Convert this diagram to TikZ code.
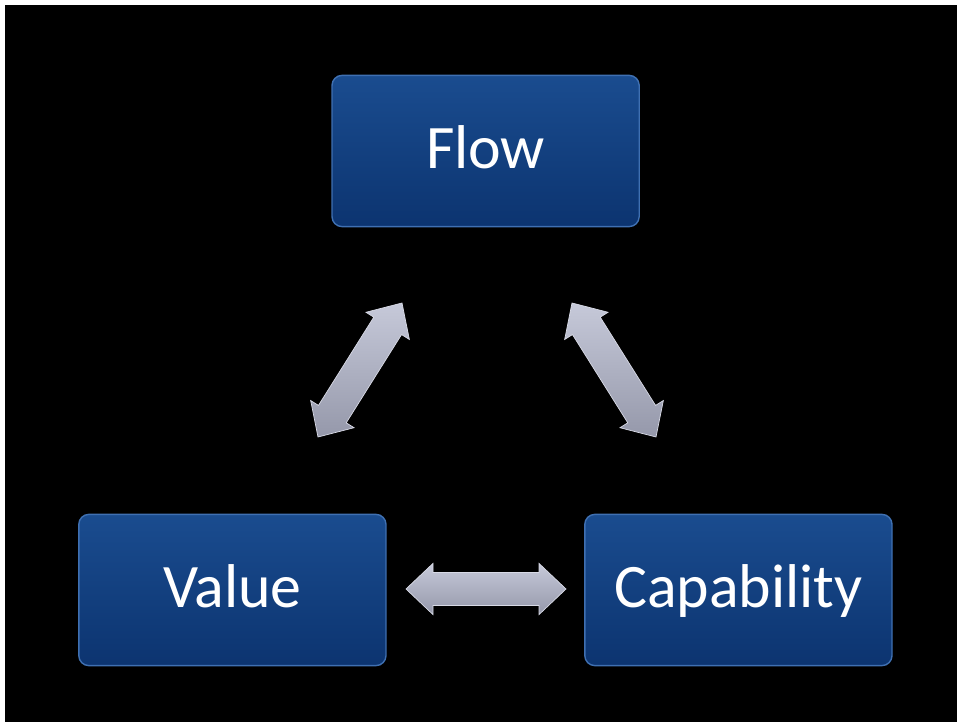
\documentclass[tikz,border=0pt]{standalone}
\usepackage{fontspec}
\setmainfont{Carlito}
\usetikzlibrary{calc}

\definecolor{boxtop}{HTML}{1A4C8F}
\definecolor{boxbottom}{HTML}{0C3470}
\definecolor{boxrim}{HTML}{3F70B2}
\definecolor{linktop}{HTML}{C6C9D9}
\definecolor{linkbottom}{HTML}{9598AA}
\definecolor{linkrim}{HTML}{D8DAE6}

\begin{document}
\begin{tikzpicture}[
    box/.style={
        rectangle,
        draw=boxrim,
        line width=1pt,
        rounded corners=0.25cm,
        top color=boxtop,
        bottom color=boxbottom,
        minimum width=7.68cm,
        minimum height=3.78cm,
        inner sep=0pt,
        text height=33pt,
        text depth=8.8pt,
        text=white,
        font=\fontsize{44}{53}\selectfont
    },
    link/.style={
        top color=linktop,
        bottom color=linkbottom,
        draw=linkrim,
        line width=0.5pt,
        to path={
            -- ($(\tikztostart)!0.675cm!(\tikztotarget)!0.64cm!90:(\tikztotarget)$)
            -- ($(\tikztostart)!0.675cm!(\tikztotarget)!0.41cm!90:(\tikztotarget)$)
            -- ($(\tikztotarget)!0.675cm!(\tikztostart)!0.41cm!-90:(\tikztostart)$)
            -- ($(\tikztotarget)!0.675cm!(\tikztostart)!0.64cm!-90:(\tikztostart)$)
            -- (\tikztotarget)
            -- ($(\tikztotarget)!0.675cm!(\tikztostart)!0.64cm!90:(\tikztostart)$)
            -- ($(\tikztotarget)!0.675cm!(\tikztostart)!0.41cm!90:(\tikztostart)$)
            -- ($(\tikztostart)!0.675cm!(\tikztotarget)!0.41cm!-90:(\tikztotarget)$)
            -- ($(\tikztostart)!0.675cm!(\tikztotarget)!0.64cm!-90:(\tikztotarget)$)
            -- cycle
        }
    }
]

% Background
\useasboundingbox (0,0) rectangle (24,18.075);
\fill[white] (0,0) rectangle (24,18.075);
\fill[black] (0.125,0.025) rectangle (23.925,17.95);

% Nodes
\node[box] (Flow)  at (12.14,14.3)  {Flow};
\node[box] (Value) at (5.81,3.325)  {Value};
\node[box] (Cap)   at (18.46,3.325) {Capability};

% Arrow ends
\coordinate (vf) at (7.95,7.15);
\coordinate (fv) at (10.05,10.5);
\coordinate (fc) at (14.3,10.5);
\coordinate (cf) at (16.4,7.15);
\coordinate (vc) at (10.15,3.35);
\coordinate (cv) at (14.15,3.35);

% Arrows
\draw[link] (vf) to (fv);
\draw[link] (fc) to (cf);
\draw[link] (vc) to (cv);

\end{tikzpicture}
\end{document}
